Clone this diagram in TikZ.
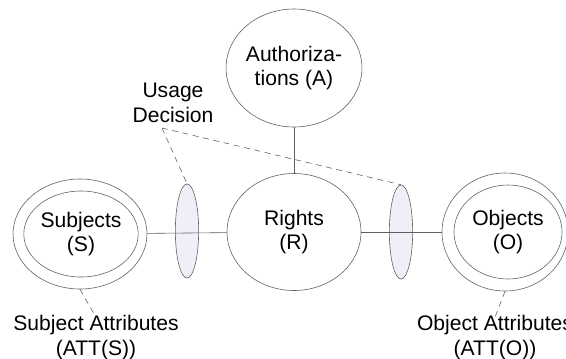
\documentclass[tikz,border=0pt]{standalone}
\usepackage{fontspec}
\setmainfont{Liberation Sans}
\usetikzlibrary{shapes.geometric}
\definecolor{lensfill}{RGB}{240,238,246}
\definecolor{linegray}{RGB}{95,95,95}

\begin{document}
\begin{tikzpicture}[x=0.03cm, y=-0.03cm,
	ring/.style={ellipse, draw=linegray, line width=0.5pt, inner sep=0pt, align=center, font=\fontsize{18}{21}\selectfont},
	lens/.style={ellipse, draw=linegray, line width=0.5pt, fill=lensfill, inner sep=0pt, minimum width=0.7cm, minimum height=2.82cm},
	tag/.style={inner sep=0pt, align=center, font=\fontsize{18}{21}\selectfont},
	link/.style={draw=linegray, line width=0.5pt},
	hint/.style={draw=linegray, line width=0.5pt, dash pattern=on 5pt off 4pt}]
	\useasboundingbox (0,0) rectangle (566,358);
	% main circles
	\node[ring, minimum width=3.99cm, minimum height=3.54cm] (auth) at (294,68) {Authoriza-\\tions (A)};
	\node[ring, minimum width=4.02cm, minimum height=3.51cm] (rights) at (294,232) {Rights\\(R)};
	\node[ring, minimum width=4.02cm, minimum height=3.3cm] (subjOut) at (80,234) {};
	\node[ring, minimum width=3.24cm, minimum height=2.58cm] (subj) at (81,234) {Subjects\\(S)};
	\node[ring, minimum width=3.78cm, minimum height=3.54cm] (objOut) at (505,232) {};
	\node[ring, minimum width=3.24cm, minimum height=2.82cm] (obj) at (508,232) {Objects\\(O)};
	% decision lenses
	\node[lens] (lensS) at (187,231) {};
	\node[lens] (lensO) at (401,232) {};
	% links
	\draw[link] (subjOut) -- (rights);
	\draw[link] (rights) -- (objOut);
	\draw[link] (auth) -- (rights);
	% labels
	\node[tag] (usage) at (173,103) {Usage\\Decision};
	\coordinate (usageTip) at (162,128);
	\draw[hint] (usageTip) -- (lensS.north);
	\draw[hint] (usageTip) -- (lensO.north);
	\node[tag, anchor=north] (subjAtt) at (96,315) {Subject Attributes\\(ATT(S))};
	\node[tag, anchor=north] (objAtt) at (495,315) {Object Attributes\\(ATT(O))};
	\draw[hint] (subjOut.south) -- ([yshift=-2pt]subjAtt.north);
	\draw[hint] (objOut.south) -- ([yshift=-2pt]objAtt.north);
\end{tikzpicture}
\end{document}
